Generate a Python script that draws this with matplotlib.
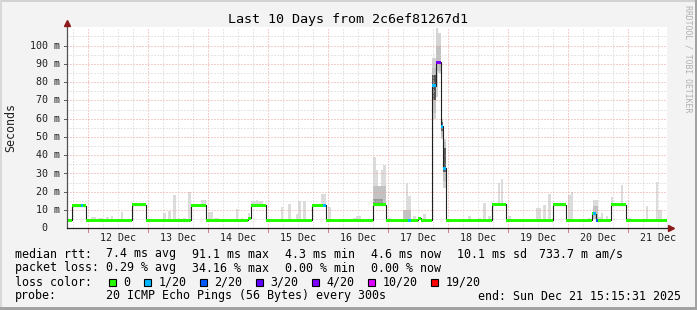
import numpy as np
import matplotlib.pyplot as plt
from matplotlib.patches import Rectangle
from matplotlib.transforms import blended_transform_factory
from datetime import datetime

W, H = 697, 310
MONO = 'DejaVu Sans Mono'

# x axis is hours since the start of the window (10 days)
start = datetime(2025, 12, 11, 15, 15, 31)
span_hours = 240
label_days = [12, 13, 14, 15, 16, 17, 18, 19, 20, 21]
y_ticks = [0, 10, 20, 30, 40, 50, 60, 70, 80, 90, 100]

# median rtt (ms) as steps: hour where each level starts
median_t = [0, 2.3, 7.7, 26.3, 31.7, 49.7, 55.7, 72.6, 73.7, 79.7, 98.3, 103.7, 122.4, 127.7,
            140.5, 141.8, 146.3, 147.8, 149.7, 150.5, 151.8, 170.3, 175.7, 194.5, 199.7,
            210.3, 211.7, 217.7, 223.7]
median_v = [4.5, 12.4, 4.4, 13.0, 4.5, 12.6, 4.5, 5.5, 12.5, 4.5, 12.5, 4.5, 12.8, 4.5,
            5.5, 4.5, 78, 91, 56, 33, 4.5, 13.2, 4.5, 12.8, 4.5,
            8.0, 4.5, 13.0, 4.5]

# packet loss events (everything else is 0 loss)
loss_start = [5.8, 102.6, 136.5, 146.3, 147.8, 149.7, 210.6, 211.7]
loss_end = [6.6, 103.7, 137.7, 147.8, 149.7, 151.8, 211.7, 212.5]
loss_level = ['1/20', '1/20', '1/20', '1/20', '4/20', '1/20', '1/20', '2/20']

loss_names = ['0', '1/20', '2/20', '3/20', '4/20', '10/20', '19/20']
loss_colors = ['#26ff00', '#00b8ff', '#0059ff', '#5e00ff', '#7e00ff', '#dd00ff', '#ff0000']

# smoke: light spread of the pings above the median
smoke_start = [9.8, 12.5, 15.8, 17.8, 21.8, 38.5, 40.5, 42.5, 44.5, 46.5, 48.5, 53.8, 56.5, 59.0,
               67.8, 69.8, 72.6, 73.8, 75.8, 85.8, 88.6, 91.8, 92.6, 94.6, 101.8, 104.5, 114.6,
               115.8, 122.5, 123.8, 124.6, 125.8, 126.6, 128.5, 134.5, 135.8, 136.6, 138.5, 142.5,
               160.5, 164.5, 166.5, 168.5, 172.5, 173.8, 176.5, 187.8, 190.5, 192.5, 200.5, 201.8,
               208.5, 210.5, 212.5, 213.8, 215.8, 217.8, 221.8, 223.8, 231.8, 235.8, 236.7]
smoke_end = [11.8, 14.6, 16.8, 18.6, 22.6, 39.8, 41.8, 43.8, 45.4, 47.8, 49.8, 55.8, 58.7, 61.0,
             68.6, 70.6, 73.4, 78.6, 76.6, 86.6, 89.8, 93.0, 93.8, 95.8, 103.8, 105.8, 115.8,
             117.8, 123.8, 124.6, 125.8, 126.6, 127.8, 129.8, 135.8, 136.6, 137.7, 139.8, 143.8,
             161.8, 165.8, 167.8, 169.8, 173.4, 174.7, 177.8, 189.8, 191.8, 193.8, 201.8, 202.6,
             209.8, 212.5, 213.8, 214.7, 216.6, 218.7, 222.7, 225.8, 232.7, 236.7, 238.1]
smoke_top = [6.2, 5.5, 6.2, 6.7, 8.9, 8.5, 9.6, 18.2, 5.5, 5.5, 20.0, 15.5, 8.9, 5.5,
             10.4, 5.7, 8.5, 15.0, 15.5, 11.8, 13.3, 8.0, 15.0, 15.0, 18.8, 11.5, 5.5,
             6.7, 38.9, 31.9, 22.8, 32.0, 34.7, 5.5, 10.0, 25.0, 17.7, 6.5, 7.8,
             6.5, 5.5, 13.7, 6.8, 24.6, 27.0, 6.8, 11.0, 12.8, 18.8, 18.2, 20.0,
             5.7, 15.5, 6.0, 8.5, 7.0, 17.3, 23.7, 5.5, 12.2, 25.5, 10.0]

# smoke around the big spike on 17 Dec
spike_start = [146.3, 147.8, 148.5, 149.7, 150.5]
spike_end = [147.8, 148.5, 149.7, 150.5, 151.8]
spike_low = [60, 72, 85, 49, 22]
spike_high = [93, 109.5, 107, 60, 49]

# denser (darker) smoke
mid_start = [122.5, 134.5, 146.3, 147.8, 149.7, 150.5, 210.5]
mid_end = [127.8, 137.7, 147.8, 149.7, 150.5, 151.8, 212.5]
mid_low = [13.0, 5.0, 63, 86, 50, 26, 5.0]
mid_high = [23.0, 10.0, 88, 100, 59, 47, 12.0]

core_start = [122.5, 146.3, 149.7, 150.5]
core_end = [126.6, 147.8, 150.5, 151.8]
core_low = [12.5, 70, 53, 31]
core_high = [16.0, 84, 58, 44]
core_colors = ['#9a9a9a', '#555555', '#666666', '#606060']


def fx(x):
    return x / W


def fy(y):
    return 1 - y / H


def hours(d, hh):
    return (datetime(2025, 12, d, hh) - start).total_seconds() / 3600


def median_at(t):
    i = np.searchsorted(median_t, t, side='right') - 1
    return median_v[i]


fig = plt.figure(figsize=(W / 100, H / 100), dpi=100)
fig.patch.set_facecolor('#f3f3f3')

# frame of the image
for (x, y, w, h, c) in [(0, 0, W, 2, '#d2d2d2'), (0, 0, 2, H, '#d8d8d8'),
                        (W - 2, 0, 2, H, '#a2a2a2'), (0, H - 3, W, 3, '#a2a2a2')]:
    fig.patches.append(Rectangle((fx(x), fy(y + h)), w / W, h / H, transform=fig.transFigure,
                                 color=c, lw=0))

ax = fig.add_axes([fx(66.5), fy(228.3), 600 / W, (228.3 - 27) / H])
ax.set_xlim(0, span_hours)
ax.set_ylim(0, 110.2)
ax.set_facecolor('white')
for s in ax.spines.values():
    s.set_visible(False)
ax.set_xticks([])
ax.set_yticks([])

# grid
minor_x = [hours(11, 18)] + [hours(d, hh) for d in range(12, 22) for hh in (6, 12, 18)]
major_x = [hours(d, 0) for d in range(12, 22)]
dots = (0, (1, 2))
for x in minor_x:
    ax.axvline(x, color='#cfcfcf', lw=0.72, ls=dots, zorder=2)
for x in major_x:
    ax.axvline(x, color='#eb9c9c', lw=0.72, ls=dots, zorder=2)
for v in range(5, 110, 10):
    ax.axhline(v, color='#cfcfcf', lw=0.72, ls=dots, zorder=2)
for v in range(10, 110, 10):
    ax.axhline(v, color='#eb9c9c', lw=0.72, ls=dots, zorder=2)

# smoke
for a, b, top in zip(smoke_start, smoke_end, smoke_top):
    low = median_at((a + b) / 2) - 0.8
    ax.bar(a, top - low, width=b - a, bottom=low, align='edge', color='#dcdcdc', lw=0, zorder=1)
ax.bar(spike_start, np.subtract(spike_high, spike_low), width=np.subtract(spike_end, spike_start),
       bottom=spike_low, align='edge', color='#d4d4d4', lw=0, zorder=1)
ax.bar(mid_start, np.subtract(mid_high, mid_low), width=np.subtract(mid_end, mid_start),
       bottom=mid_low, align='edge', color='#c2c2c2', lw=0, zorder=1.1)
ax.bar(core_start, np.subtract(core_high, core_low), width=np.subtract(core_end, core_start),
       bottom=core_low, align='edge', color=core_colors, lw=0, zorder=1.2)

# median line
ax.step(median_t + [span_hours], median_v + [median_v[-1]], where='post',
        color='#202020', lw=0.8, zorder=3)

# loss coloured band on the median
cuts = sorted(set(median_t + loss_start + loss_end + [span_hours]))
band = 0.82
for a, b in zip(cuts[:-1], cuts[1:]):
    m = (a + b) / 2
    lvl = '0'
    for s, e, l in zip(loss_start, loss_end, loss_level):
        if s <= m < e:
            lvl = l
    v = median_at(m)
    ax.broken_barh([(a, b - a)], (v - band, 2 * band),
                   color=loss_colors[loss_names.index(lvl)], lw=0, zorder=4)

# axes lines with arrows
ax.plot([0, 0], [0, 1.02], transform=ax.transAxes, color='#505050', lw=0.9, clip_on=False, zorder=5)
ax.plot([0, 1.007], [0, 0], transform=ax.transAxes, color='#202020', lw=0.9, clip_on=False, zorder=5)
ax.plot(0, 1.02, marker='^', ms=4, color='#8b1a1a', transform=ax.transAxes, clip_on=False, zorder=6)
ax.plot(1.008, 0, marker='>', ms=4, color='#8b1a1a', transform=ax.transAxes, clip_on=False, zorder=6)

# small ticks
bt = blended_transform_factory(ax.transData, ax.transAxes)
for x in major_x:
    ax.plot([x, x], [-0.018, 0], transform=bt, color='#d08080', lw=0.72, clip_on=False)
bt2 = blended_transform_factory(ax.transAxes, ax.transData)
for v in y_ticks[1:]:
    ax.plot([-0.005, 0], [v, v], transform=bt2, color='#606060', lw=0.72, clip_on=False)

# tick labels
for v in y_ticks:
    lab = '  0' if v == 0 else f'{v:>3} m'
    fig.text(fx(30), fy(228.3 - v * 1.826), lab, ha='left', va='center',
             fontsize=7.2, family=MONO, color='#202020')
for d in label_days:
    xpix = 66.5 + hours(d, 12) * 2.5
    fig.text(fx(xpix), fy(237.7), f'{d} Dec', ha='center', va='center',
             fontsize=7.2, family=MONO, color='#202020')

# titles
fig.text(fx(348.5), fy(19.5), 'Last 10 Days from 2c6ef81267d1', ha='center', va='center',
         fontsize=9.6, family=MONO)
fig.text(fx(11), fy(127.5), 'Seconds', rotation=90, ha='center', va='center',
         fontsize=8.4, family=MONO, color='#202020')
fig.text(fx(688), fy(59), 'RRDTOOL / TOBI OETIKER', rotation=270, ha='center', va='center',
         fontsize=5.9, family=MONO, color='#b0b0b0')

# legend
line1 = [('median rtt:', 16), ('7.4 ms avg', 107), ('91.1 ms max', 193), ('4.3 ms min', 286),
         ('4.6 ms now', 372), ('10.1 ms sd', 458), ('733.7 m am/s', 540)]
line2 = [('packet loss:', 16), ('0.29 % avg', 107), ('34.16 % max', 193), ('0.00 % min', 286),
         ('0.00 % now', 372)]
line4 = [('probe:', 16), ('20 ICMP Echo Pings (56 Bytes) every 300s', 107)]
for items, y in [(line1, 254), (line2, 268), (line4, 296)]:
    for txt, x in items:
        fig.text(fx(x - 0.7), fy(y), txt, ha='left', va='center', fontsize=8.4, family=MONO)
fig.text(fx(680.5), fy(296), 'end: Sun Dec 21 15:15:31 2025', ha='right', va='center',
         fontsize=8.4, family=MONO)

fig.text(fx(15.3), fy(282), 'loss color:', ha='left', va='center', fontsize=8.4, family=MONO)
bx = 109
for name, col in zip(loss_names, loss_colors):
    fig.patches.append(Rectangle((fx(bx), fy(285.5)), 7 / W, 7 / H, transform=fig.transFigure,
                                 facecolor=col, edgecolor='black', lw=0.8))
    fig.text(fx(bx + 14.3), fy(282), name, ha='left', va='center', fontsize=8.4, family=MONO)
    bx += 14 + 7 * len(name) + 14

fig.savefig('out.png', dpi=100, facecolor=fig.get_facecolor())
